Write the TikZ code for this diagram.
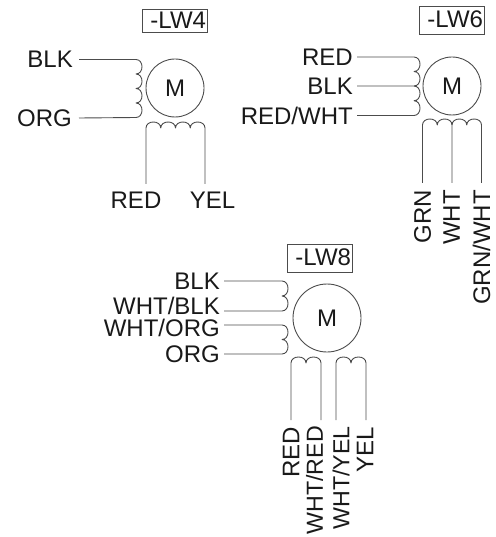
\documentclass[tikz,border=0pt]{standalone}
\usepackage{fontspec}
\setmainfont{Liberation Sans}
\def\bv#1{.. controls +(8,0) and +(8,0) .. ++(0,#1)}
\def\bh#1{.. controls +(0,-8) and +(0,-8) .. ++(#1,0)}
\tikzset{
  wire/.style={draw=black!70,line width=0.9pt,line join=round},
  lab/.style={inner sep=0pt,font=\fontsize{24}{25}\selectfont,text=black!90},
  wl/.style={lab,anchor=east},
  vl/.style={lab,anchor=east,rotate=90},
  vlong/.style={vl,font=\fontsize{23.2}{25}\selectfont},
  motor/.style={circle,draw=black!70,line width=0.9pt,inner sep=0pt,lab},
  tag/.style={draw=black!70,line width=0.9pt,inner sep=0pt,font=\fontsize{24}{25}\selectfont,text=black!90}
}
\begin{document}
\begin{tikzpicture}[x=1pt,y=-1pt]
\useasboundingbox (0,0) rectangle (495,537);
% -LW4
\node[tag,minimum width=65pt,minimum height=23pt] (t4) at (174.5,20.5) {\makebox[65pt][r]{-LW4\hspace{1pt}}};
\node[motor,minimum size=58pt] (m4) at (175,88) {M};
\node[wl] (a1) at (73,59.5) {BLK};
\node[wl] (a2) at (72,118) {ORG};
\node[lab] (a3) at (136,200) {RED};
\node[lab] (a4) at (212.5,200) {YEL};
\coordinate (a3e) at (146,184);
\coordinate (a4e) at (205,184);
\draw[wire] ([xshift=6pt]a1.east) -- (136,59.5) \bv{14.5}\bv{14.5}\bv{14.5}\bv{14.5} -- ([xshift=7pt]a2.east);
\draw[wire] (a3e) -- (146,128) \bh{14.75}\bh{14.75}\bh{14.75}\bh{14.75} -- (a4e);
% -LW6
\node[tag,minimum width=65pt,minimum height=28pt] (t6) at (451.5,20) {\makebox[65pt][r]{\raisebox{2pt}{-LW6}\hspace{1pt}}};
\node[motor,minimum size=58pt] (m6) at (452,86) {M};
\node[wl] (b1) at (353,57) {RED};
\node[wl] (b2) at (353,86) {BLK};
\node[wl] (b3) at (353,115.5) {RED/WHT};
\node[vl] (b4) at (422.5,190) {GRN};
\node[vl] (b5) at (451.5,190) {WHT};
\node[vl] (b6) at (481.5,190) {GRN/WHT};
\draw[wire] ([xshift=4pt]b1.east) -- (414,57) \bv{14.5}\bv{14.5} -- ([xshift=4pt]b2.east);
\draw[wire] (414,86) \bv{14.75}\bv{14.75} -- ([xshift=4pt]b3.east);
\coordinate (b4e) at (422.5,183);
\coordinate (b5e) at (452,183);
\coordinate (b6e) at (481.5,183);
\draw[wire] (b4e) -- (422.5,125) \bh{14.75}\bh{14.75} -- (b5e);
\draw[wire] (452,125) \bh{14.75}\bh{14.75} -- (b6e);
% -LW8
\node[tag,minimum width=65pt,minimum height=28pt] (t8) at (319.5,258.5) {\makebox[65pt][r]{\raisebox{3pt}{-LW8}\hspace{1pt}}};
\node[motor,minimum size=68pt] (m8) at (327,318) {M};
\node[wl] (c1) at (220,281) {BLK};
\node[wl] (c2) at (220,306) {WHT/BLK};
\node[wl] (c3) at (220,328) {WHT/ORG};
\node[wl] (c4) at (220,354) {ORG};
\draw[wire] ([xshift=4pt]c1.east) -- (282,281) \bv{15}\bv{15} -- (224,311);
\draw[wire] (224,325) -- (282,325) \bv{14.5}\bv{14.5} -- ([xshift=4pt]c4.east);
\node[vl] (c5) at (291,427) {RED};
\node[vlong] (c6) at (314.5,426) {WHT/RED};
\node[vlong] (c7) at (341,426) {WHT/YEL};
\node[vl] (c8) at (365,427) {YEL};
\coordinate (c5e) at (291,420);
\coordinate (c6e) at (321,420);
\coordinate (c7e) at (336,420);
\coordinate (c8e) at (366,420);
\draw[wire] (c5e) -- (291,363) \bh{15}\bh{15} -- (c6e);
\draw[wire] (c7e) -- (336,363) \bh{15}\bh{15} -- (c8e);
\end{tikzpicture}
\end{document}
